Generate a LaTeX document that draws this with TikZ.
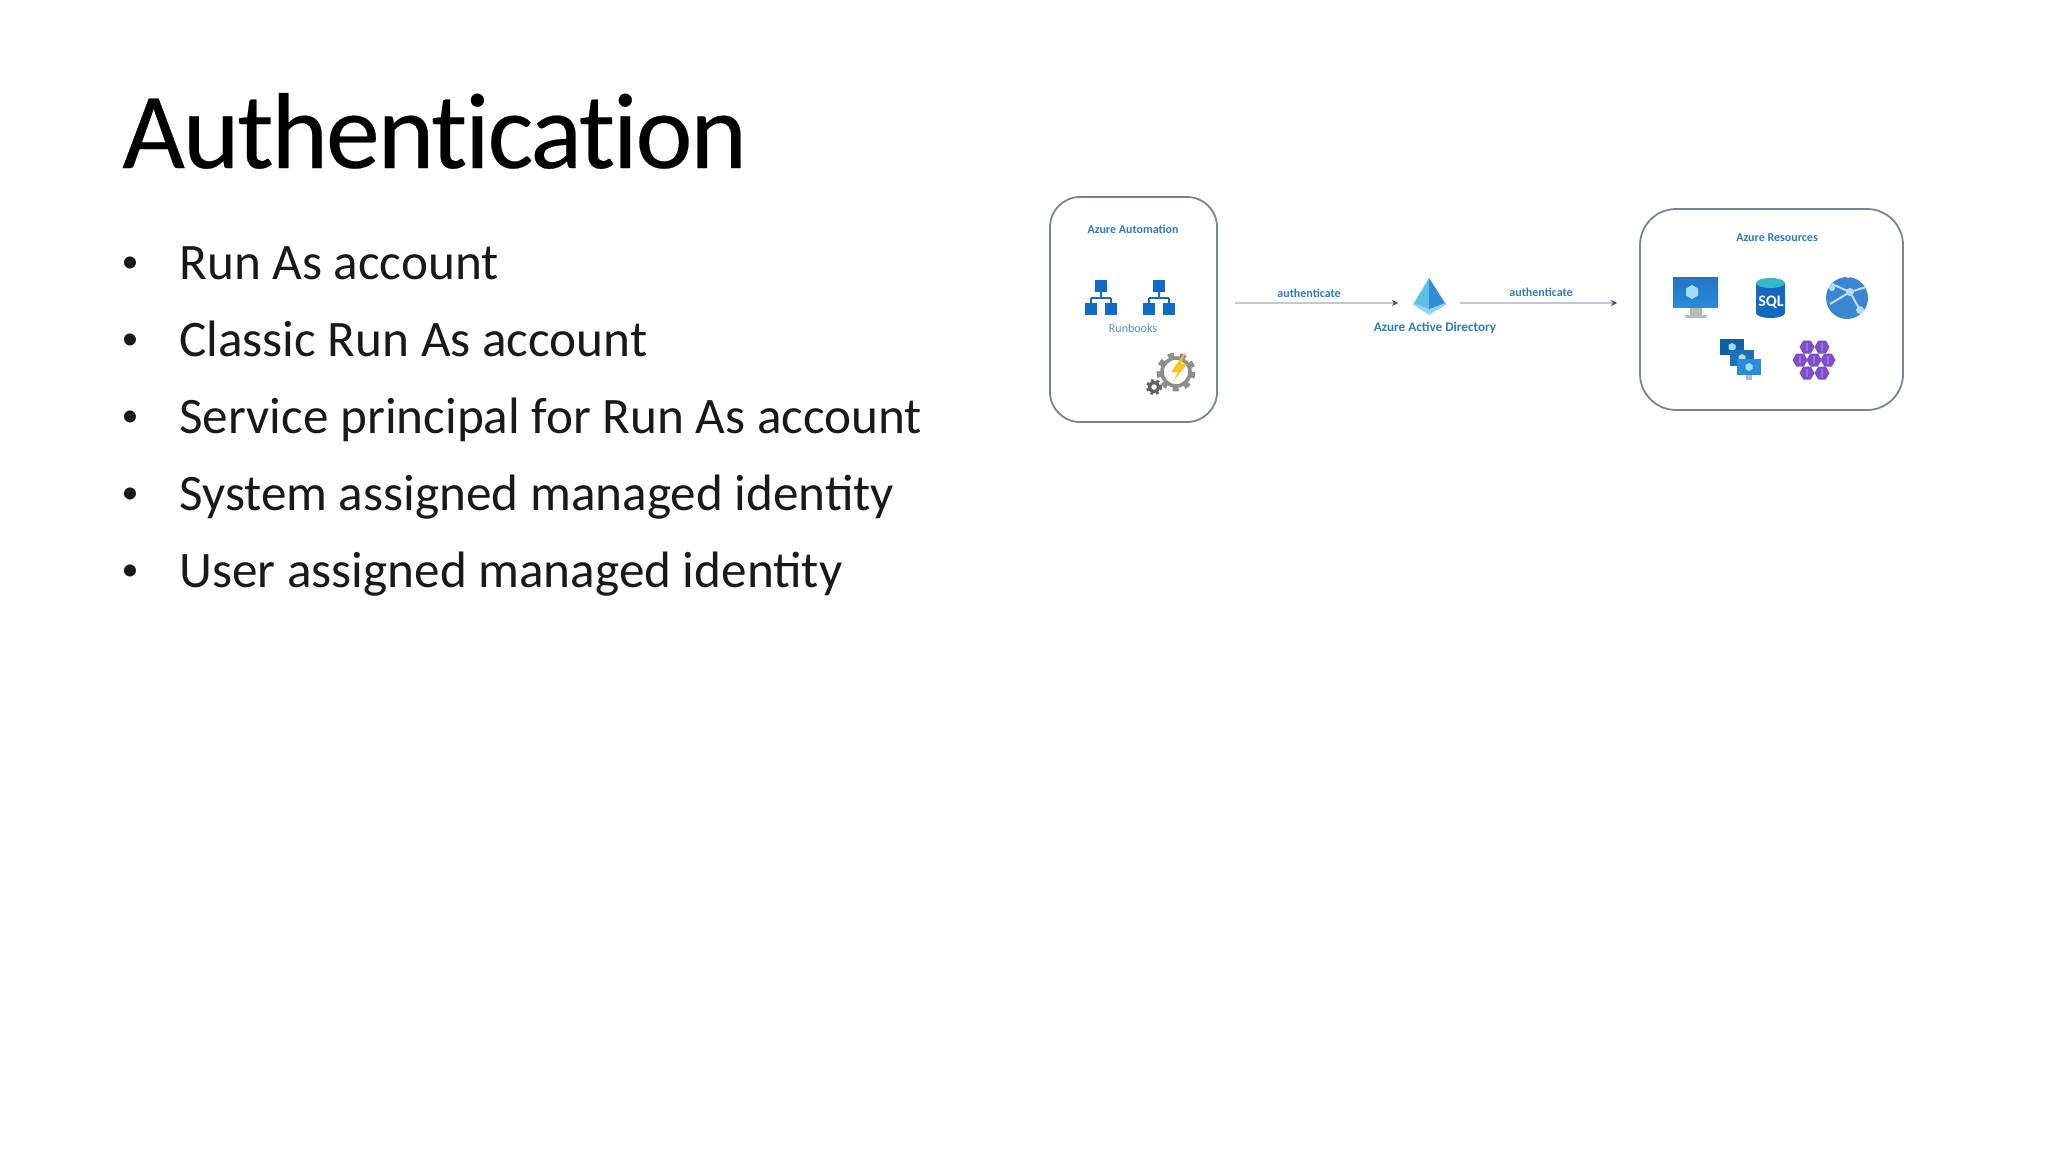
\documentclass[tikz,border=0pt]{standalone}
\usepackage{fontspec}
\setmainfont{Carlito}
\newfontfamily\titlefont[Ligatures=NoCommon,LetterSpace=-2,FakeBold=0.2]{Carlito}
\usetikzlibrary{arrows.meta,shapes.geometric}
\definecolor{boxline}{HTML}{7A8590}
\definecolor{lblue}{HTML}{2F7DB8}
\definecolor{rbblue}{HTML}{0F6CC8}
\definecolor{arrowl}{HTML}{C4C8D6}
\definecolor{arrowh}{HTML}{3F4F78}
\definecolor{gearg}{HTML}{8E8E8E}
\definecolor{boltc}{HTML}{F7C325}
\definecolor{vmblue}{HTML}{2A8AE0}
\definecolor{vmdark}{HTML}{0F5FAF}
\definecolor{vmlight}{HTML}{9FE0F5}
\definecolor{standg}{HTML}{B8BCC2}
\definecolor{sqlblue}{HTML}{1568C0}
\definecolor{sqlteal}{HTML}{35B8C8}
\definecolor{globeblue}{HTML}{3A86D0}
\definecolor{globelight}{HTML}{B5DDF5}
\definecolor{purp}{HTML}{7E4FC8}
\definecolor{purplight}{HTML}{9A74DC}
\definecolor{aadband}{HTML}{8FD6F2}
\definecolor{aadleft}{HTML}{5CC0EA}
\definecolor{aadright}{HTML}{2F8FD6}
\tikzset{
  titletext/.style={anchor=base west,inner sep=0pt,font=\titlefont\fontsize{54}{58}\selectfont,text=black},
  bullettext/.style={anchor=base west,inner sep=0pt,font=\fontsize{25.6}{30}\selectfont,text=black!90},
  bulletmark/.style={anchor=base,inner sep=0pt,font=\fontsize{17}{20}\selectfont,text=black!90},
  container/.style={draw=boxline,line width=0.9pt,fill=white},
  lbl/.style={inner sep=0pt,font=\fontsize{6}{7}\selectfont\bfseries,text=lblue},
  lblthin/.style={inner sep=0pt,font=\fontsize{6}{7}\selectfont,text=lblue!85},
  flow/.style={draw=arrowl,line width=0.9pt,-{Stealth[length=3pt,width=3pt,color=arrowh]}},
  rbbox/.style={fill=rbblue},
  rbline/.style={draw=rbblue,line width=0.9pt},
}
\newcommand{\runbookicon}[1]{%
  \begin{scope}[shift={(#1)}]
    \draw[rbline] (0,0) -- (0,11) (-10,11) -- (10,11) (-10,11) -- (-10,18) (10,11) -- (10,18);
    \fill[rbbox] (-6,-7) rectangle (6,5);
    \fill[rbbox] (-16,16) rectangle (-4,28);
    \fill[rbbox] (4,16) rectangle (16,28);
  \end{scope}}
\newcommand{\smallvm}[2]{%
  \begin{scope}[shift={(#1)}]
    \fill[#2] (-12,-8) rectangle (12,8);
    \fill[vmlight] (0,-4) -- (3.5,-2) -- (3.5,2) -- (0,4) -- (-3.5,2) -- (-3.5,-2) -- cycle;
  \end{scope}}
\newcommand{\purphex}[1]{%
  \begin{scope}[shift={(#1)}]
    \fill[purp] (-7.5,0) -- (-3.8,-6.5) -- (3.8,-6.5) -- (7.5,0) -- (3.8,6.5) -- (-3.8,6.5) -- cycle;
    \fill[purplight] (-1,-4) rectangle (1,4);
  \end{scope}}
\begin{document}
\begin{tikzpicture}[x=0.5pt,y=-0.5pt]
\useasboundingbox (0,0) rectangle (2048,1152);
\fill[white] (0,0) rectangle (2048,1152);

\node[titletext] (title) at (122,168) {Authentication};
\foreach \n/\y/\t in {b1/279/Run As account,b2/356/Classic Run As account,b3/433/Service principal for Run As account,b4/510/System assigned managed identity,b5/587/User assigned managed identity}{
  \node[bulletmark] (\n m) at (130,\y-7) {•};
  \node[bullettext] (\n) at (179,\y) {\t};
}

% containers
\draw[container,rounded corners=15pt] (1050,197) rectangle (1217,422);
\draw[container,rounded corners=18pt] (1640,209) rectangle (1903,410);
\node[lbl] (autolabel) at (1133,229.5) {Azure Automation};
\node[lbl] (reslabel) at (1777,238) {Azure Resources};
\node[lblthin] (rblabel) at (1133,328) {Runbooks};

% runbook icons
\runbookicon{1101,287}
\runbookicon{1159,287}

% automation gear icon
\draw[gearg,line width=1.8pt] (1176,372) circle (14);
\draw[gearg,line width=2.4pt,dash pattern=on 3pt off 3pt] (1176,372) circle (17);
\draw[gearg!70!black,line width=1.6pt] (1154,387) circle (4.6);
\draw[gearg!70!black,line width=1.6pt,dash pattern=on 1.3pt off 1.4pt] (1154,387) circle (6.4);
\fill[boltc] (1186,351) -- (1171,372) -- (1178,372) -- (1173,382) -- (1187,364) -- (1181,364) -- cycle;

% AAD pyramid
\fill[aadband] (1412,304) -- (1429,296) -- (1447,304) -- (1429,315) -- cycle;
\fill[aadleft] (1414,303) -- (1429,278) -- (1429,309) -- cycle;
\fill[aadright] (1429,278) -- (1445,303) -- (1429,309) -- cycle;
\node[lbl,font=\fontsize{6.6}{8}\selectfont\bfseries] (aadlabel) at (1435,328) {Azure Active Directory};

% arrows
\coordinate (f1s) at (1235,303);
\coordinate (f1e) at (1398,303);
\coordinate (f2s) at (1460,303);
\coordinate (f2e) at (1617,303);
\draw[flow] (f1s) -- (f1e);
\draw[flow] (f2s) -- (f2e);
\node[lbl] (auth1) at (1309,293) {authenticate};
\node[lbl] (auth2) at (1541,292) {authenticate};

% VM
\fill[standg] (1690,307) rectangle (1702,315);
\fill[standg] (1685,315) rectangle (1707,318);
\shade[top color=vmblue!85!black,bottom color=vmblue] (1673,277) rectangle (1718,307);
\fill[vmlight] (1692,285) -- (1698,288.5) -- (1698,295.5) -- (1692,299) -- (1686,295.5) -- (1686,288.5) -- cycle;

% SQL
\fill[sqlblue] (1756,283) -- (1756,313) arc[start angle=180,end angle=360,x radius=14.5,y radius=-5] -- (1785,283) -- cycle;
\fill[sqlteal] (1770.5,283) ellipse (14.5 and 5);
\node[inner sep=0pt,text=white,font=\fontsize{8}{9}\selectfont\bfseries] (sqltext) at (1771,302) {SQL};

% globe
\fill[globeblue] (1847,298) circle (21);
\draw[white,line width=1.1pt] (1847,277) arc[start angle=90,end angle=270,x radius=-9,y radius=21];
\draw[white!70!globeblue,line width=1pt] (1832,284) -- (1850,292) -- (1860,310) (1850,292) -- (1866,287) (1830,304) -- (1850,292);
\fill[globelight] (1850,292) circle (4);
\fill[globelight] (1860,310) circle (4);
\fill[globelight] (1832,288) circle (3);

% VM scale set
\smallvm{1732,347}{vmdark}
\smallvm{1742,358}{vmblue!80!black}
\fill[standg] (1746,375) rectangle (1752,380);
\smallvm{1749,367}{vmblue}

% purple cluster
\purphex{1807,347}
\purphex{1822,347}
\purphex{1800,360}
\purphex{1814,360}
\purphex{1828,360}
\purphex{1807,373}
\purphex{1822,373}
\end{tikzpicture}
\end{document}
